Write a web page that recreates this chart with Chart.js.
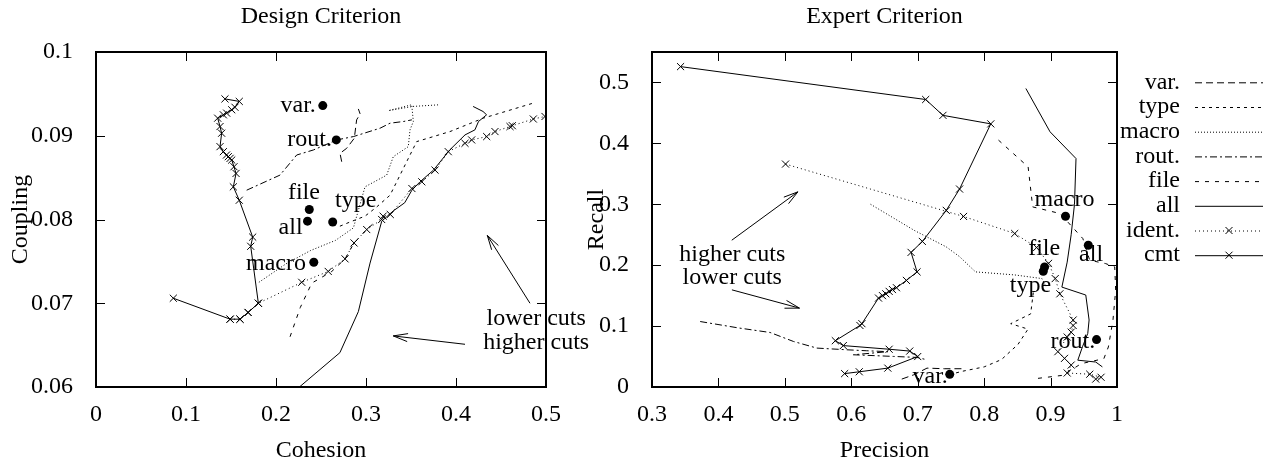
<!DOCTYPE html>
<html><head><meta charset="utf-8">
<script src="https://cdn.jsdelivr.net/npm/chart.js@4.4.0/dist/chart.umd.min.js"></script>
<style>
html,body{margin:0;padding:0;background:#fff;width:1271px;height:461px;overflow:hidden}
#c1{position:absolute;left:0;top:0}
#c2{position:absolute;left:560px;top:0}
</style></head><body>
<canvas id="c1" width="640" height="461"></canvas>
<canvas id="c2" width="711" height="461"></canvas>
<script>
// ---------- data ----------
const seriesNames = ['var.','type','macro','rout.','file','all','ident.','cmt'];

// Design criterion (x = Cohesion, y = Coupling)
const designXTicks = [0,0.1,0.2,0.3,0.4,0.5];
const designXLabels = ['0','0.1','0.2','0.3','0.4','0.5'];
const designYTicks = [0.06,0.07,0.08,0.09,0.1];
const designYLabels = ['0.06','0.07','0.08','0.09','0.1'];

const designVar = [[0.273,0.0869],[0.2711,0.0879],[0.2785,0.0885],[0.287,0.0897],[0.2896,0.0919],[0.2935,0.0926],[0.2915,0.0932]];
const designType = [[0.271,0.0792],[0.2822,0.0797],[0.2989,0.0804],[0.3119,0.0815],[0.3267,0.0829],[0.3378,0.0853],[0.3563,0.0893],[0.3933,0.0905],[0.4303,0.0921],[0.4859,0.0939]];
const designMacro = [[0.181,0.0725],[0.211,0.0747],[0.2385,0.0763],[0.266,0.0775],[0.286,0.079],[0.2989,0.0839],[0.323,0.0853],[0.3303,0.0875],[0.347,0.0887],[0.3489,0.0907],[0.3526,0.0917],[0.3508,0.0937],[0.325,0.093],[0.352,0.0935],[0.382,0.0937]];
const designRout = [[0.1674,0.0835],[0.2044,0.0853],[0.223,0.0877],[0.2415,0.0883],[0.2674,0.0895],[0.286,0.0899],[0.3156,0.0909],[0.3267,0.0915],[0.3415,0.0917],[0.351,0.0919]];
const designFile = [[0.2156,0.066],[0.227,0.0695],[0.2397,0.0724],[0.262,0.0738],[0.2767,0.0753],[0.2867,0.0772],[0.3008,0.0788],[0.31,0.0797]];
const designAll = [[0.226,0.06],[0.271,0.0641],[0.2915,0.069],[0.3045,0.0748],[0.3175,0.0798],[0.33,0.081],[0.343,0.082],[0.351,0.0835],[0.36,0.0845],[0.375,0.0859],[0.393,0.0883],[0.41,0.0901],[0.421,0.0907],[0.425,0.0917],[0.434,0.0925],[0.43,0.0929],[0.419,0.0935]];
const designIdent = [[0.149,0.0681],[0.16,0.0681],[0.169,0.0689],[0.1804,0.07],[0.2286,0.0725],[0.258,0.0738],[0.2767,0.0753],[0.2867,0.0772],[0.3008,0.0788],[0.3174,0.08],[0.319,0.0804],[0.327,0.0806],[0.351,0.0837],[0.362,0.0845],[0.3767,0.0859],[0.3914,0.0881],[0.41,0.0891],[0.4174,0.0895],[0.4341,0.0899],[0.4433,0.0905],[0.46,0.0911],[0.4626,0.0912],[0.4859,0.092],[0.4989,0.0923]];
const designCmt = [[0.0859,0.0706],[0.149,0.0681],[0.16,0.0681],[0.169,0.0689],[0.1804,0.07],[0.1719,0.0768],[0.1741,0.0779],[0.1592,0.0823],[0.1526,0.0839],[0.1556,0.0855],[0.1533,0.0863],[0.1508,0.0871],[0.149,0.0873],[0.147,0.0875],[0.145,0.0877],[0.1415,0.0881],[0.1378,0.0887],[0.1396,0.0903],[0.1378,0.0911],[0.1352,0.0921],[0.1415,0.0925],[0.1452,0.0927],[0.1508,0.0931],[0.1544,0.0934],[0.1592,0.0941],[0.1433,0.0944]];

const designPointNames = ['var.','rout.','file','all','type','macro'];
const designPoints = [[0.252,0.0936],[0.267,0.0895],[0.237,0.0812],[0.235,0.0798],[0.263,0.0797],[0.242,0.0749]];
const designPointLabelPos = [[0.2246,0.0936],[0.2373,0.0895],[0.231,0.0832],[0.2162,0.079],[0.2886,0.0823],[0.2,0.0747]];
const designNotes = ['lower cuts','higher cuts'];
const designNotePos = [[0.4891,0.0681],[0.4891,0.0653]];
const designArrows = [[0.4822,0.07,0.4348,0.0781],[0.41,0.0651,0.3303,0.0661]];

// Expert criterion (x = Precision, y = Recall)
const expertXTicks = [0.3,0.4,0.5,0.6,0.7,0.8,0.9,1];
const expertXLabels = ['0.3','0.4','0.5','0.6','0.7','0.8','0.9','1'];
const expertYTicks = [0,0.1,0.2,0.3,0.4,0.5];
const expertYLabels = ['0','0.1','0.2','0.3','0.4','0.5'];

const expertVar = [[0.676,0.013],[0.694,0.02],[0.714,0.031],[0.74,0.03],[0.769,0.03]];
const expertType = [[0.874,0.155],[0.87,0.12],[0.84,0.104],[0.866,0.095],[0.851,0.07],[0.826,0.045],[0.8,0.033],[0.768,0.026],[0.75,0.021]];
const expertMacro = [[0.629,0.3],[0.695,0.257],[0.743,0.23],[0.763,0.214],[0.787,0.189],[0.846,0.184],[0.887,0.178],[0.893,0.165]];
const expertRout = [[0.3725,0.1075],[0.43,0.097],[0.4778,0.0895],[0.5129,0.0748],[0.5481,0.0639],[0.5932,0.0611],[0.6233,0.0595],[0.655,0.058],[0.6032,0.0529],[0.6633,0.0502],[0.6985,0.0486],[0.7135,0.0448]];
const expertFile = [[0.8216,0.4053],[0.8662,0.3614],[0.8731,0.2957],[0.9143,0.2848],[0.9486,0.2437],[0.9589,0.2081],[0.9829,0.2026],[0.9966,0.1971],[0.998,0.1588],[0.9939,0.1095],[0.987,0.0657],[0.9802,0.0465],[0.946,0.0383],[0.9185,0.0192],[0.8774,0.0137]];
const expertAll = [[0.8628,0.4901],[0.8992,0.419],[0.9383,0.3751],[0.936,0.3],[0.931,0.25],[0.925,0.205],[0.917,0.164],[0.953,0.151],[0.958,0.11],[0.956,0.088],[0.948,0.066],[0.941,0.044],[0.968,0.041],[0.978,0.033]];
const expertIdent = [[0.501,0.366],[0.769,0.28],[0.846,0.252],[0.879,0.229],[0.897,0.203],[0.907,0.178],[0.914,0.153],[0.934,0.11],[0.934,0.101],[0.931,0.09],[0.925,0.082],[0.911,0.058],[0.921,0.047],[0.931,0.036],[0.925,0.023],[0.959,0.021],[0.976,0.016],[0.968,0.013]];
const expertCmt = [[0.343,0.526],[0.712,0.472],[0.738,0.446],[0.81,0.432],[0.763,0.325],[0.743,0.29],[0.707,0.239],[0.69,0.221],[0.699,0.189],[0.683,0.175],[0.668,0.163],[0.662,0.16],[0.657,0.157],[0.652,0.153],[0.647,0.15],[0.641,0.146],[0.616,0.104],[0.613,0.101],[0.576,0.076],[0.588,0.068],[0.657,0.062],[0.688,0.059],[0.7,0.05],[0.655,0.031],[0.612,0.025],[0.59,0.022]];

const expertPointNames = ['macro','file','all','type','rout.','var.'];
const expertPoints = [[0.9225,0.2804],[0.891,0.197],[0.9568,0.2327],[0.889,0.19],[0.9692,0.0778],[0.7482,0.0208]];
const expertPointLabelPos = [[0.9211,0.3067],[0.8903,0.2273],[0.961,0.218],[0.8697,0.167],[0.9335,0.0739],[0.7187,0.0175]];
const expertNotes = ['higher cuts','lower cuts'];
const expertNotePos = [[0.4208,0.2169],[0.4208,0.1787]];
const expertArrows = [[0.4201,0.241,0.5196,0.3204],[0.4203,0.1595,0.522,0.1295]];

// ---------- styling ----------
const F = "'Liberation Serif','Times New Roman',serif";
Chart.defaults.font.family = F;
Chart.defaults.color = '#000';
const lineStyles = [
  {dash:[7,4], marker:false},
  {dash:[3,4], marker:false},
  {dash:[1,2], marker:false},
  {dash:[7,3,2,3], marker:false},
  {dash:[4,6], marker:false},
  {dash:[], marker:false},
  {dash:[1,3], marker:true},
  {dash:[], marker:true}
];

function buildDatasets(seriesList, pts) {
  const ds = seriesList.map((s, i) => ({
    label: seriesNames[i],
    data: s.map(([x, y]) => ({x, y})),
    showLine: true,
    borderColor: '#000',
    borderWidth: 1,
    borderDash: lineStyles[i].dash,
    pointRadius: lineStyles[i].marker ? 5 : 0,
    pointStyle: 'crossRot',
    pointBorderColor: '#000',
    pointBorderWidth: 1,
    fill: false,
    tension: 0
  }));
  ds.push({
    label: 'points',
    data: pts.map(([x, y]) => ({x, y})),
    showLine: false,
    pointRadius: 4.5,
    pointStyle: 'circle',
    backgroundColor: '#000',
    borderColor: '#000',
    pointBorderWidth: 0
  });
  return ds;
}

function xScale(min, max, ticks, labels, title) {
  return {
    type: 'linear', min, max, position: 'bottom',
    grid: {display: false}, border: {display: false},
    ticks: {padding: 5, color: '#000', font: {size: 24, family: F}, maxRotation: 0, autoSkip: false,
            callback: (v, i) => labels[i]},
    afterBuildTicks: s => { s.ticks = ticks.map(v => ({value: v})); },
    afterFit: s => { s.height = 74; },
    title: {display: true, text: title, color: '#000', font: {size: 24, family: F, lineHeight: 0.8}, padding: {top: 0, bottom: 1}}
  };
}
function yScale(min, max, ticks, labels, title, width, tpad) {
  return {
    type: 'linear', min, max, position: 'left',
    grid: {display: false}, border: {display: false},
    ticks: {padding: 15, color: '#000', font: {size: 24, family: F}, autoSkip: false,
            callback: (v, i) => labels[i]},
    afterBuildTicks: s => { s.ticks = ticks.map(v => ({value: v})); },
    afterFit: s => { s.width = width; },
    title: {display: true, text: title, color: '#000', font: {size: 24, family: F, lineHeight: 0.8}, padding: {top: tpad, bottom: 0}}
  };
}

function drawArrow(ctx, x1, y1, x2, y2) {
  ctx.beginPath(); ctx.moveTo(x1, y1); ctx.lineTo(x2, y2); ctx.stroke();
  const a = Math.atan2(y2 - y1, x2 - x1), L = 15, h = 0.27;
  ctx.beginPath();
  ctx.moveTo(x2 - L * Math.cos(a - h), y2 - L * Math.sin(a - h));
  ctx.lineTo(x2, y2);
  ctx.lineTo(x2 - L * Math.cos(a + h), y2 - L * Math.sin(a + h));
  ctx.stroke();
}

const decor = {
  id: 'decor',
  afterDatasetsDraw(chart, args, o) {
    const {ctx, chartArea: a} = chart;
    const sx = chart.scales.x, sy = chart.scales.y;
    ctx.save();
    ctx.strokeStyle = '#000'; ctx.fillStyle = '#000';
    ctx.lineWidth = 1;
    ctx.beginPath();
    o.xTicks.forEach(v => {
      const px = Math.round(sx.getPixelForValue(v)) + 0.5;
      ctx.moveTo(px, a.bottom); ctx.lineTo(px, a.bottom - 9);
      ctx.moveTo(px, a.top); ctx.lineTo(px, a.top + 9);
    });
    o.yTicks.forEach(v => {
      const py = Math.round(sy.getPixelForValue(v)) + 0.5;
      ctx.moveTo(a.left, py); ctx.lineTo(a.left + 9, py);
      ctx.moveTo(a.right, py); ctx.lineTo(a.right - 9, py);
    });
    ctx.stroke();
    ctx.lineWidth = 2;
    ctx.strokeRect(a.left, a.top, a.right - a.left, a.bottom - a.top);
    ctx.font = '24px ' + F;
    ctx.textAlign = 'center'; ctx.textBaseline = 'middle';
    o.labels.forEach((t, i) => {
      const [x, y] = o.labelPos[i];
      ctx.fillText(t, sx.getPixelForValue(x), sy.getPixelForValue(y));
    });
    o.notes.forEach((t, i) => {
      const [x, y] = o.notePos[i];
      ctx.fillText(t, sx.getPixelForValue(x), sy.getPixelForValue(y));
    });
    ctx.lineWidth = 1;
    o.arrows.forEach(([x1, y1, x2, y2]) => {
      drawArrow(ctx, sx.getPixelForValue(x1), sy.getPixelForValue(y1), sx.getPixelForValue(x2), sy.getPixelForValue(y2));
    });
    ctx.textBaseline = 'alphabetic';
    ctx.fillText(o.title, (a.left + a.right) / 2, 23);
    if (o.legend) {
      const lx = o.legend.textRight, l1 = o.legend.lineStart, l2 = o.legend.lineEnd;
      ctx.textAlign = 'right'; ctx.textBaseline = 'middle';
      seriesNames.forEach((n, i) => {
        const y = o.legend.top + i * o.legend.step;
        ctx.fillText(n, lx, y);
        ctx.lineWidth = 1;
        ctx.setLineDash(lineStyles[i].dash);
        ctx.beginPath(); ctx.moveTo(l1, y + 0.5); ctx.lineTo(l2, y + 0.5); ctx.stroke();
        ctx.setLineDash([]);
        if (lineStyles[i].marker) {
          const m = (l1 + l2) / 2, r = 3.5;
          ctx.beginPath();
          ctx.moveTo(m - r, y - r); ctx.lineTo(m + r, y + r);
          ctx.moveTo(m - r, y + r); ctx.lineTo(m + r, y - r);
          ctx.stroke();
        }
      });
    }
    ctx.restore();
  }
};

const commonOpts = {
  responsive: false, animation: false, devicePixelRatio: 1,
  events: [],
  plugins: {legend: {display: false}, tooltip: {enabled: false}, title: {display: false}}
};

new Chart(document.getElementById('c1'), {
  type: 'scatter',
  data: {datasets: buildDatasets([designVar, designType, designMacro, designRout, designFile, designAll, designIdent, designCmt], designPoints)},
  plugins: [decor],
  options: Object.assign({}, commonOpts, {
    layout: {padding: {left: 0, right: 94, top: 52, bottom: 0}},
    scales: {
      x: xScale(0, 0.5, designXTicks, designXLabels, 'Cohesion'),
      y: yScale(0.06, 0.1, designYTicks, designYLabels, 'Coupling', 96, 11.4)
    },
    plugins: Object.assign({}, commonOpts.plugins, {
      decor: {xTicks: designXTicks, yTicks: designYTicks, labels: designPointNames, labelPos: designPointLabelPos,
              notes: designNotes, notePos: designNotePos, arrows: designArrows, title: 'Design Criterion', legend: null}
    })
  })
});

new Chart(document.getElementById('c2'), {
  type: 'scatter',
  data: {datasets: buildDatasets([expertVar, expertType, expertMacro, expertRout, expertFile, expertAll, expertIdent, expertCmt], expertPoints)},
  plugins: [decor],
  options: Object.assign({}, commonOpts, {
    layout: {padding: {left: 0, right: 154, top: 52, bottom: 0}},
    scales: {
      x: xScale(0.3, 1, expertXTicks, expertXLabels, 'Precision'),
      y: yScale(0, 0.55, expertYTicks, expertYLabels, 'Recall', 92, 27.4)
    },
    plugins: Object.assign({}, commonOpts.plugins, {
      decor: {xTicks: expertXTicks, yTicks: expertYTicks, labels: expertPointNames, labelPos: expertPointLabelPos,
              notes: expertNotes, notePos: expertNotePos, arrows: expertArrows, title: 'Expert Criterion',
              legend: {textRight: 620, lineStart: 635, lineEnd: 703, top: 82.3, step: 24.7}}
    })
  })
});
</script></body></html>
